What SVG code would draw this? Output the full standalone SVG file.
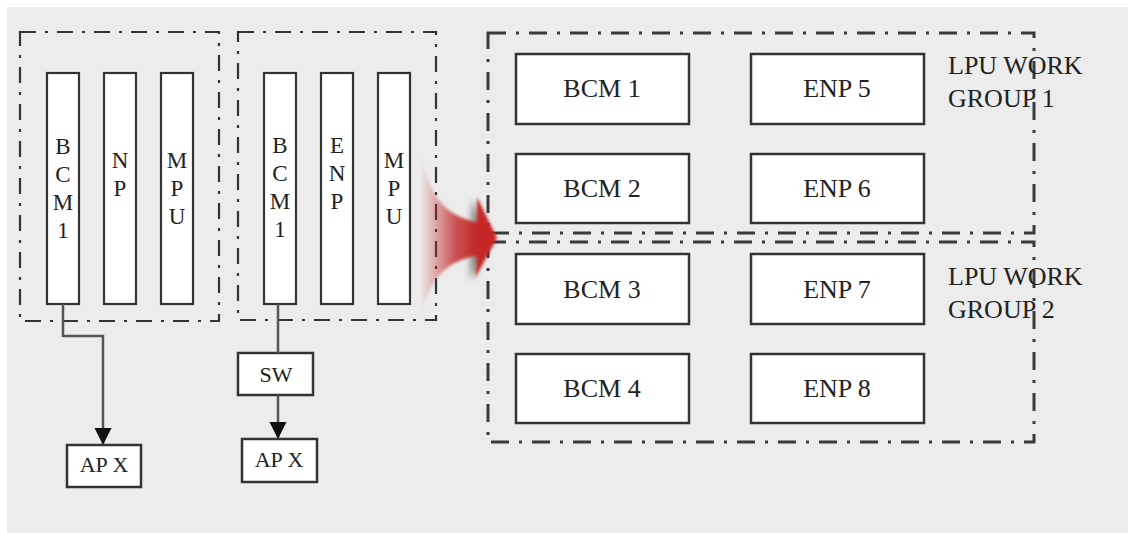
<svg xmlns="http://www.w3.org/2000/svg" width="1128" height="533" viewBox="0 0 1128 533">
<defs>
<style>
.grp{fill:none;stroke:#333;stroke-width:2.2;stroke-dasharray:16 9 3 9}
.grpR{fill:none;stroke:#3a3a3a;stroke-width:3;stroke-dasharray:18 10 3 10}
.bar{fill:#fff;stroke:#333;stroke-width:2.2}
.box{fill:#fff;stroke:#333;stroke-width:2.5}
.t{font-family:"Liberation Serif","Times New Roman",serif;font-size:26px;fill:#222;text-anchor:middle}
.tv{font-family:"Liberation Serif","Times New Roman",serif;font-size:23px;fill:#222;text-anchor:middle}
.ts{font-family:"Liberation Serif","Times New Roman",serif;font-size:22px;fill:#222;text-anchor:middle}
.tl{font-family:"Liberation Serif","Times New Roman",serif;font-size:26px;fill:#222}
.wire{fill:none;stroke:#555;stroke-width:2.5}
</style>
<marker id="ah" viewBox="0 0 10 10" refX="10" refY="5" markerWidth="7" markerHeight="7" markerUnits="strokeWidth" orient="auto">
<path d="M0,0 L10,5 L0,10 Z" fill="#111"/>
</marker>
<linearGradient id="rg" x1="420" y1="0" x2="480" y2="0" gradientUnits="userSpaceOnUse">
<stop offset="0" stop-color="#c62828" stop-opacity="0"/>
<stop offset="0.6" stop-color="#c0282a" stop-opacity="0.8"/>
<stop offset="1" stop-color="#c62828" stop-opacity="1"/>
</linearGradient>
<filter id="blur" x="-20%" y="-20%" width="140%" height="140%"><feGaussianBlur stdDeviation="1.5"/></filter>
<filter id="sh" x="-30%" y="-30%" width="160%" height="160%"><feGaussianBlur stdDeviation="3"/></filter>
</defs>
<rect x="0" y="0" width="1128" height="533" fill="#fff"/>
<rect x="7" y="7" width="1121" height="526" fill="#ececec"/>

<g id="group-left1">
<rect class="grp" x="20" y="32" width="199" height="289"/>
</g>
<g id="group-left2">
<rect class="grp" x="238" y="32" width="198" height="288"/>
</g>

<g id="bar-bcm1-a">
<rect class="bar" x="47" y="73" width="32" height="231"/>
<text class="tv" x="63" y="154">B</text><text class="tv" x="63" y="182">C</text><text class="tv" x="63" y="210">M</text><text class="tv" x="63" y="238">1</text>
</g>
<g id="bar-np">
<rect class="bar" x="104" y="73" width="32" height="231"/>
<text class="tv" x="120" y="168">N</text><text class="tv" x="120" y="196">P</text>
</g>
<g id="bar-mpu-a">
<rect class="bar" x="161" y="73" width="32" height="231"/>
<text class="tv" x="177" y="168">M</text><text class="tv" x="177" y="196">P</text><text class="tv" x="177" y="224">U</text>
</g>
<g id="bar-bcm1-b">
<rect class="bar" x="264" y="73" width="32" height="231"/>
<text class="tv" x="280" y="153">B</text><text class="tv" x="280" y="181">C</text><text class="tv" x="280" y="209">M</text><text class="tv" x="280" y="237">1</text>
</g>
<g id="bar-enp">
<rect class="bar" x="321" y="73" width="32" height="231"/>
<text class="tv" x="337" y="153">E</text><text class="tv" x="337" y="181">N</text><text class="tv" x="337" y="209">P</text>
</g>
<g id="bar-mpu-b">
<rect class="bar" x="378" y="73" width="32" height="231"/>
<text class="tv" x="394" y="168">M</text><text class="tv" x="394" y="196">P</text><text class="tv" x="394" y="224">U</text>
</g>

<g id="sw">
<rect class="box" x="238" y="353" width="75" height="42"/>
<text class="ts" x="276" y="382">SW</text>
</g>
<g id="apx-left">
<rect class="box" x="67" y="445" width="74" height="42"/>
<text class="ts" x="104" y="472">AP X</text>
</g>
<g id="apx-right">
<rect class="box" x="242" y="439" width="75" height="43"/>
<text class="ts" x="279" y="467">AP X</text>
</g>

<g id="lpu-group1">
<rect class="grpR" x="488" y="33" width="546" height="200"/>
<text class="tl" x="948" y="74">LPU WORK</text>
<text class="tl" x="948" y="107">GROUP 1</text>
</g>
<g id="lpu-group2">
<rect class="grpR" x="488" y="242" width="546" height="200"/>
<text class="tl" x="948" y="285">LPU WORK</text>
<text class="tl" x="948" y="318">GROUP 2</text>
</g>

<g id="bcm1"><rect class="box" x="516" y="54" width="173" height="70"/><text class="t" x="602" y="97">BCM 1</text></g>
<g id="enp5"><rect class="box" x="751" y="54" width="173" height="70"/><text class="t" x="837" y="97">ENP 5</text></g>
<g id="bcm2"><rect class="box" x="516" y="154" width="173" height="69"/><text class="t" x="602" y="197">BCM 2</text></g>
<g id="enp6"><rect class="box" x="751" y="154" width="173" height="69"/><text class="t" x="837" y="197">ENP 6</text></g>
<g id="bcm3"><rect class="box" x="516" y="254" width="173" height="70"/><text class="t" x="602" y="298">BCM 3</text></g>
<g id="enp7"><rect class="box" x="751" y="254" width="173" height="70"/><text class="t" x="837" y="298">ENP 7</text></g>
<g id="bcm4"><rect class="box" x="516" y="354" width="173" height="69"/><text class="t" x="602" y="397">BCM 4</text></g>
<g id="enp8"><rect class="box" x="751" y="354" width="173" height="69"/><text class="t" x="837" y="397">ENP 8</text></g>

<g id="connectors">
<path class="wire" d="M63,304 V336 H103 V445" marker-end="url(#ah)"/>
<path class="wire" d="M278,304 V353"/>
<path class="wire" d="M278,395 V439" marker-end="url(#ah)"/>
<g id="red-arrow">
<path d="M472,200 L492,240 L470,280 Z" fill="#333" opacity="0.55" filter="url(#sh)"/>
<path d="M420,150 C428,190 440,215 477,222 L477,197 L497,238 L475,278 L477,256 C440,262 428,285 420,320 Z" fill="url(#rg)" filter="url(#blur)"/>
</g>
</g>
</svg>
